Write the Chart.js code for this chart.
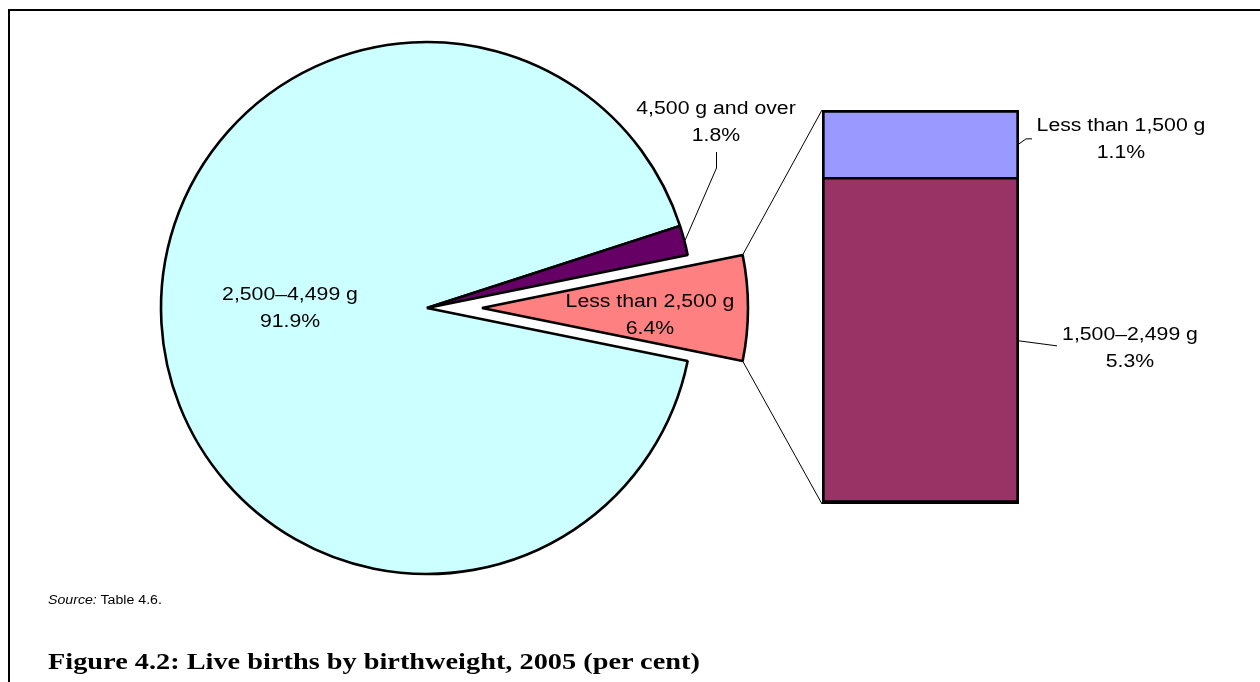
<!DOCTYPE html>
<html>
<head>
<meta charset="utf-8">
<script src="https://cdn.jsdelivr.net/npm/chart.js@4.4.1/dist/chart.umd.min.js"></script>
<style>
body { margin: 0; background: #fff; width: 1260px; height: 682px; overflow: hidden; position: relative; font-family: "Liberation Sans", Arial, sans-serif; }
canvas { position: absolute; left: 0; top: 0; }
#frame { position: absolute; left: 8px; top: 9px; right: -4px; bottom: -4px; border-top: 2px solid #000; border-left: 2px solid #000; }
#source { position: absolute; left: 48px; top: 593px; font-size: 12px; transform: scaleX(1.18); transform-origin: 0 0; white-space: nowrap; }
#title { position: absolute; left: 48px; top: 648px; font: bold 24px "Liberation Serif", serif; transform: scaleX(1.18); transform-origin: 0 0; white-space: nowrap; }
</style>
</head>
<body>
<div id="frame"></div>
<canvas id="pieChart" width="1260" height="682"></canvas>
<canvas id="barChart" width="1260" height="682"></canvas>
<div id="source"><i>Source:</i> Table 4.6.</div>
<div id="title">Figure 4.2: Live births by birthweight, 2005 (per cent)</div>
<script>
const pieLabels = ['2,500–4,499 g', '4,500 g and over', 'Less than 2,500 g'];
const pieValues = [91.9, 1.8, 6.4];
const pieColors = ['#CCFFFF', '#660066', '#FF8080'];

const barLabels = ['1,500–2,499 g', 'Less than 1,500 g'];
const barValues = [5.3, 1.1];
const barColors = ['#993366', '#9999FF'];

const pieTotal = pieValues.reduce((a, b) => a + b, 0);
const barTotal = barValues.reduce((a, b) => a + b, 0);
const EXPLODE = 55;
const STRETCH = 1.18;

function drawLines(ctx, lines, cx, y) {
    ctx.save();
    ctx.font = '18px "Liberation Sans", Arial, sans-serif';
    ctx.fillStyle = '#000';
    ctx.textAlign = 'center';
    ctx.textBaseline = 'alphabetic';
    lines.forEach((t, i) => {
        ctx.save();
        ctx.translate(cx, y + i * 27);
        ctx.scale(STRETCH, 1);
        ctx.fillText(t, 0, 0);
        ctx.restore();
    });
    ctx.restore();
}

function pct(v) {
    return v.toFixed(1) + '%';
}

function polyline(ctx, pts) {
    ctx.save();
    ctx.strokeStyle = '#000';
    ctx.lineWidth = 1;
    ctx.beginPath();
    ctx.moveTo(pts[0][0], pts[0][1]);
    for (let i = 1; i < pts.length; i++) ctx.lineTo(pts[i][0], pts[i][1]);
    ctx.stroke();
    ctx.restore();
}

// pull the "Less than 2,500 g" slice away from the centre
const explodePlugin = {
    id: 'explode',
    beforeDatasetsDraw(chart) {
        const arc = chart.getDatasetMeta(0).data[2];
        if (arc.$exploded) return;
        arc.$exploded = true;
        const baseDraw = arc.draw;
        arc.draw = function (ctx) {
            const mid = (this.startAngle + this.endAngle) / 2;
            ctx.save();
            ctx.translate(Math.cos(mid) * EXPLODE, Math.sin(mid) * EXPLODE);
            baseDraw.call(this, ctx);
            ctx.restore();
        };
    }
};

const pieTextPlugin = {
    id: 'pieText',
    afterDraw(chart) {
        const ctx = chart.ctx;
        const arcs = chart.getDatasetMeta(0).data;
        drawLines(ctx, [pieLabels[0], pct(pieValues[0])], 290, 300);
        drawLines(ctx, [pieLabels[2], pct(pieValues[2])], 650, 307);
        drawLines(ctx, [pieLabels[1], pct(pieValues[1])], 716, 114);

        const p = arcs[1];
        const mid = (p.startAngle + p.endAngle) / 2;
        const r = p.outerRadius + 1;
        polyline(ctx, [
            [p.x + Math.cos(mid) * r, p.y + Math.sin(mid) * r],
            [716.5, 168],
            [716.5, 152]
        ]);
    }
};

const pieChart = new Chart(document.getElementById('pieChart').getContext('2d'), {
    type: 'pie',
    data: {
        labels: pieLabels,
        datasets: [{
            data: pieValues,
            backgroundColor: pieColors,
            borderColor: '#000',
            borderWidth: 2.6
        }]
    },
    options: {
        responsive: false,
        animation: false,
        events: [],
        radius: 266,
        rotation: 90 + (pieValues[2] / pieTotal) * 180,
        layout: { padding: { left: 0, right: 406, top: 0, bottom: 66 } },
        plugins: { legend: { display: false }, tooltip: { enabled: false } }
    },
    plugins: [explodePlugin, pieTextPlugin]
});

const barTextPlugin = {
    id: 'barText',
    afterDraw(chart) {
        const ctx = chart.ctx;
        const low = chart.getDatasetMeta(0).data[0];
        const high = chart.getDatasetMeta(1).data[0];
        const left = low.x - low.width / 2;
        const right = low.x + low.width / 2;

        // connector lines from the exploded slice to the bar
        const arc = pieChart.getDatasetMeta(0).data[2];
        const mid = (arc.startAngle + arc.endAngle) / 2;
        const cx = arc.x + Math.cos(mid) * EXPLODE;
        const cy = arc.y + Math.sin(mid) * EXPLODE;
        const r = arc.outerRadius;
        polyline(ctx, [[cx + Math.cos(arc.startAngle) * r, cy + Math.sin(arc.startAngle) * r], [left, high.y]]);
        polyline(ctx, [[cx + Math.cos(arc.endAngle) * r, cy + Math.sin(arc.endAngle) * r], [left, low.base]]);

        const hiMid = (high.y + high.base) / 2;
        const loMid = (low.y + low.base) / 2;
        polyline(ctx, [[right, hiMid], [right + 7, hiMid - 5], [right + 13, hiMid - 5]]);
        polyline(ctx, [[right, loMid], [right + 38, loMid + 5]]);

        drawLines(ctx, [barLabels[1], pct(barValues[1])], 1121, 131);
        drawLines(ctx, [barLabels[0], pct(barValues[0])], 1130, 340);
    }
};

new Chart(document.getElementById('barChart').getContext('2d'), {
    type: 'bar',
    data: {
        labels: [''],
        datasets: [{
            label: barLabels[0],
            data: [barValues[0]],
            backgroundColor: barColors[0],
            borderColor: '#000',
            borderWidth: { top: 2, bottom: 4, left: 3, right: 3 },
            borderSkipped: false,
            barPercentage: 1,
            categoryPercentage: 1
        }, {
            label: barLabels[1],
            data: [barValues[1]],
            backgroundColor: barColors[1],
            borderColor: '#000',
            borderWidth: { top: 3, bottom: 1, left: 3, right: 3 },
            borderSkipped: false,
            barPercentage: 1,
            categoryPercentage: 1
        }]
    },
    options: {
        responsive: false,
        animation: false,
        events: [],
        layout: { padding: { left: 822, right: 241, top: 110, bottom: 178 } },
        scales: {
            x: { display: false, stacked: true },
            y: { display: false, stacked: true, min: 0, max: barTotal }
        },
        plugins: { legend: { display: false }, tooltip: { enabled: false } }
    },
    plugins: [barTextPlugin]
});
</script>
</body>
</html>
